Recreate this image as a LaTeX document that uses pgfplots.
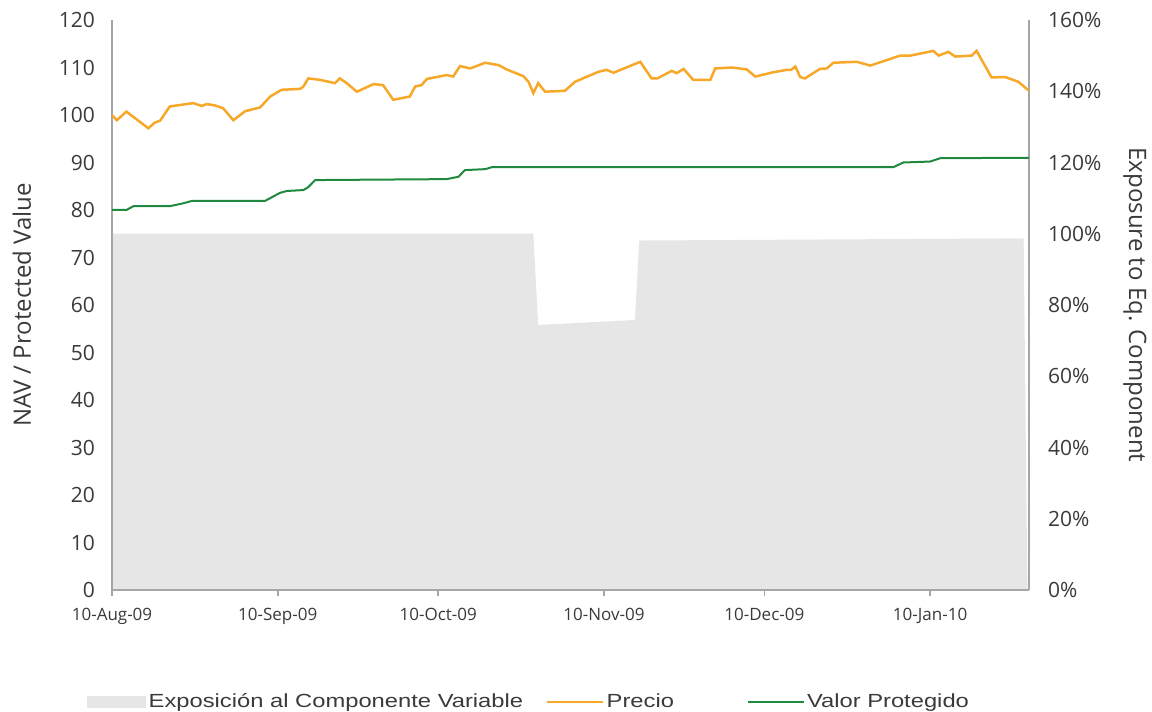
\documentclass[border=0pt]{standalone}
\usepackage{pgfplots}
\pgfplotsset{compat=1.18}
\usepackage{fontspec}
\setmainfont{Liberation Sans}
\newfontfamily\osans{Open Sans}
\newfontfamily\legfont[FakeStretch=1.25]{Liberation Sans}
\definecolor{graycol}{HTML}{E6E6E6}
\definecolor{axisgray}{HTML}{A6A6A6}
\definecolor{orangec}{HTML}{F7A829}
\definecolor{greenc}{HTML}{1F8A3F}
\definecolor{textcol}{HTML}{3A3A3A}
\pgfplotsset{
  mylinelegend/.style={legend image code/.code={\draw[##1] (0pt,0pt) -- (28pt,0pt);}},
}
\begin{document}
\begin{tikzpicture}
\useasboundingbox (-56pt,-61pt) rectangle (520pt,295pt);
% right axis: exposure area
\begin{axis}[
  at={(0,0)}, anchor=south west,
  scale only axis, width=458.5pt, height=285pt,
  xmin=0, xmax=171.5, ymin=0, ymax=160,
  axis x line=none, axis y line*=right,
  axis line style={draw=axisgray, line width=0.75pt},
  ytick={0,20,...,160},
  yticklabel={\pgfmathprintnumber{\tick}\%},
  major tick length=0pt,
  /pgf/number format/assume math mode=true,
  yticklabel style={font=\osans\fontsize{10.5}{12}\selectfont, text=textcol, xshift=6pt},
  ylabel={Exposure to Eq. Component},
  ylabel style={font=\osans\fontsize{12}{14}\selectfont, text=textcol, at={(axis description cs:1,0.5)}, rotate=180, anchor=center, yshift=53pt},
]
\addplot[fill=graycol, draw=none] coordinates {
(0,100) (78.8,100) (79.7,74.4) (97.8,75.8) (98.6,98.1) (170.5,98.7) (171.2,0)
} \closedcycle;
\end{axis}
% left axis: lines
\begin{axis}[
  at={(0,0)}, anchor=south west,
  scale only axis, width=458.5pt, height=285pt,
  xmin=0, xmax=171.5, ymin=0, ymax=120,
  axis y line*=left, axis x line*=bottom,
  axis line style={draw=axisgray, line width=0.75pt},
  xtick={0,31,61,92,122,153},
  xticklabels={10-Aug-09,10-Sep-09,10-Oct-09,10-Nov-09,10-Dec-09,10-Jan-10},
  ytick={0,10,...,120},
  tick align=outside,
  xtick style={draw=axisgray, line width=0.75pt},
  x tick label style={font=\osans\fontsize{8.5}{10}\selectfont, text=textcol, yshift=-2.5pt},
  ytick style={draw=none},
  major tick length=3pt,
  /pgf/number format/assume math mode=true,
  yticklabel style={font=\osans\fontsize{10.5}{12}\selectfont, text=textcol, xshift=-2pt},
  ylabel={NAV / Protected Value},
  ylabel style={font=\osans\fontsize{12}{14}\selectfont, text=textcol, at={(axis description cs:0,0.5)}, anchor=center, yshift=45pt},
  legend columns=3,
  legend style={at={(0,0)}, anchor=west, xshift=-12.5pt, yshift=-56pt,
    draw=none, fill=none, inner sep=0pt,
    font=\legfont\fontsize{9.5}{11}\selectfont, text=textcol,
    /tikz/every even column/.append style={column sep=0pt},
    nodes={inner sep=1.25pt}},
]
\addlegendimage{legend image code/.code={\fill[graycol] (0pt,-2.75pt) rectangle (29pt,2.75pt);}}
\addlegendentry{Exposición al Componente Variable\rule{10pt}{0pt}}
\addplot[orangec, line width=1.25pt, mylinelegend] coordinates {
(0,100.0) (0.9,98.9) (2.7,100.7) (6.8,97.2) (8,98.4) (9,98.8) (10.8,101.8) (12.7,102.1)
(15.2,102.5) (16.8,101.9) (17.7,102.3) (19.3,102.0) (20.8,101.4) (22.7,98.9) (24.9,100.8)
(27.7,101.6) (29.6,103.9) (31.7,105.3) (35.2,105.5) (35.8,106.0) (36.7,107.7) (38.9,107.4)
(41.7,106.7) (42.6,107.7) (43.9,106.7) (45.8,104.9) (48.9,106.5) (50.7,106.3) (52.6,103.2)
(55.7,103.9) (56.7,106.0) (57.9,106.3) (58.9,107.6) (62.6,108.4) (63.8,108.1) (65.1,110.3)
(67,109.8) (69.8,111.0) (72.3,110.5) (73.8,109.6) (76.9,108.2) (77.9,107.0) (78.8,104.6)
(79.7,106.7) (81,104.9) (84.7,105.1) (86.6,107.0) (91,109.1) (92.5,109.5) (93.8,108.9)
(98.8,111.2) (100.9,107.7) (102,107.7) (104.7,109.3) (105.6,108.8) (106.9,109.7) (108.7,107.4)
(111.9,107.4) (112.8,109.8) (115.9,110.0) (118.7,109.6) (120.3,108.1) (123.7,109.0) (126.2,109.5)
(127,109.5) (127.8,110.2) (128.7,108.0) (129.6,107.7) (132.4,109.7) (133.7,109.8) (134.9,111.0)
(139.3,111.2) (141.8,110.4) (147.4,112.5) (149.3,112.5) (153.6,113.5) (154.6,112.5) (156.4,113.3)
(157.7,112.3) (160.8,112.5) (161.7,113.5) (164.5,107.9) (167,108.0) (169.5,107.0) (171.5,105.1)
};
\addlegendentry{Precio\rule{35pt}{0pt}}
\addplot[greenc, line width=1pt, mylinelegend] coordinates {
(0,80.0) (2.7,80.0) (4,80.8) (10.8,80.8) (13.3,81.4) (14.9,81.9) (28.6,81.9) (31.4,83.6)
(32.7,84.0) (35.8,84.2) (36.7,84.8) (38,86.3) (62.6,86.5) (64.8,87.0) (66,88.4) (69.8,88.6)
(71,89.0) (146.1,89.0) (148,90.0) (153,90.2) (154.9,90.9) (171.5,91.0)
};
\addlegendentry{Valor Protegido}
\end{axis}
\end{tikzpicture}
\end{document}
